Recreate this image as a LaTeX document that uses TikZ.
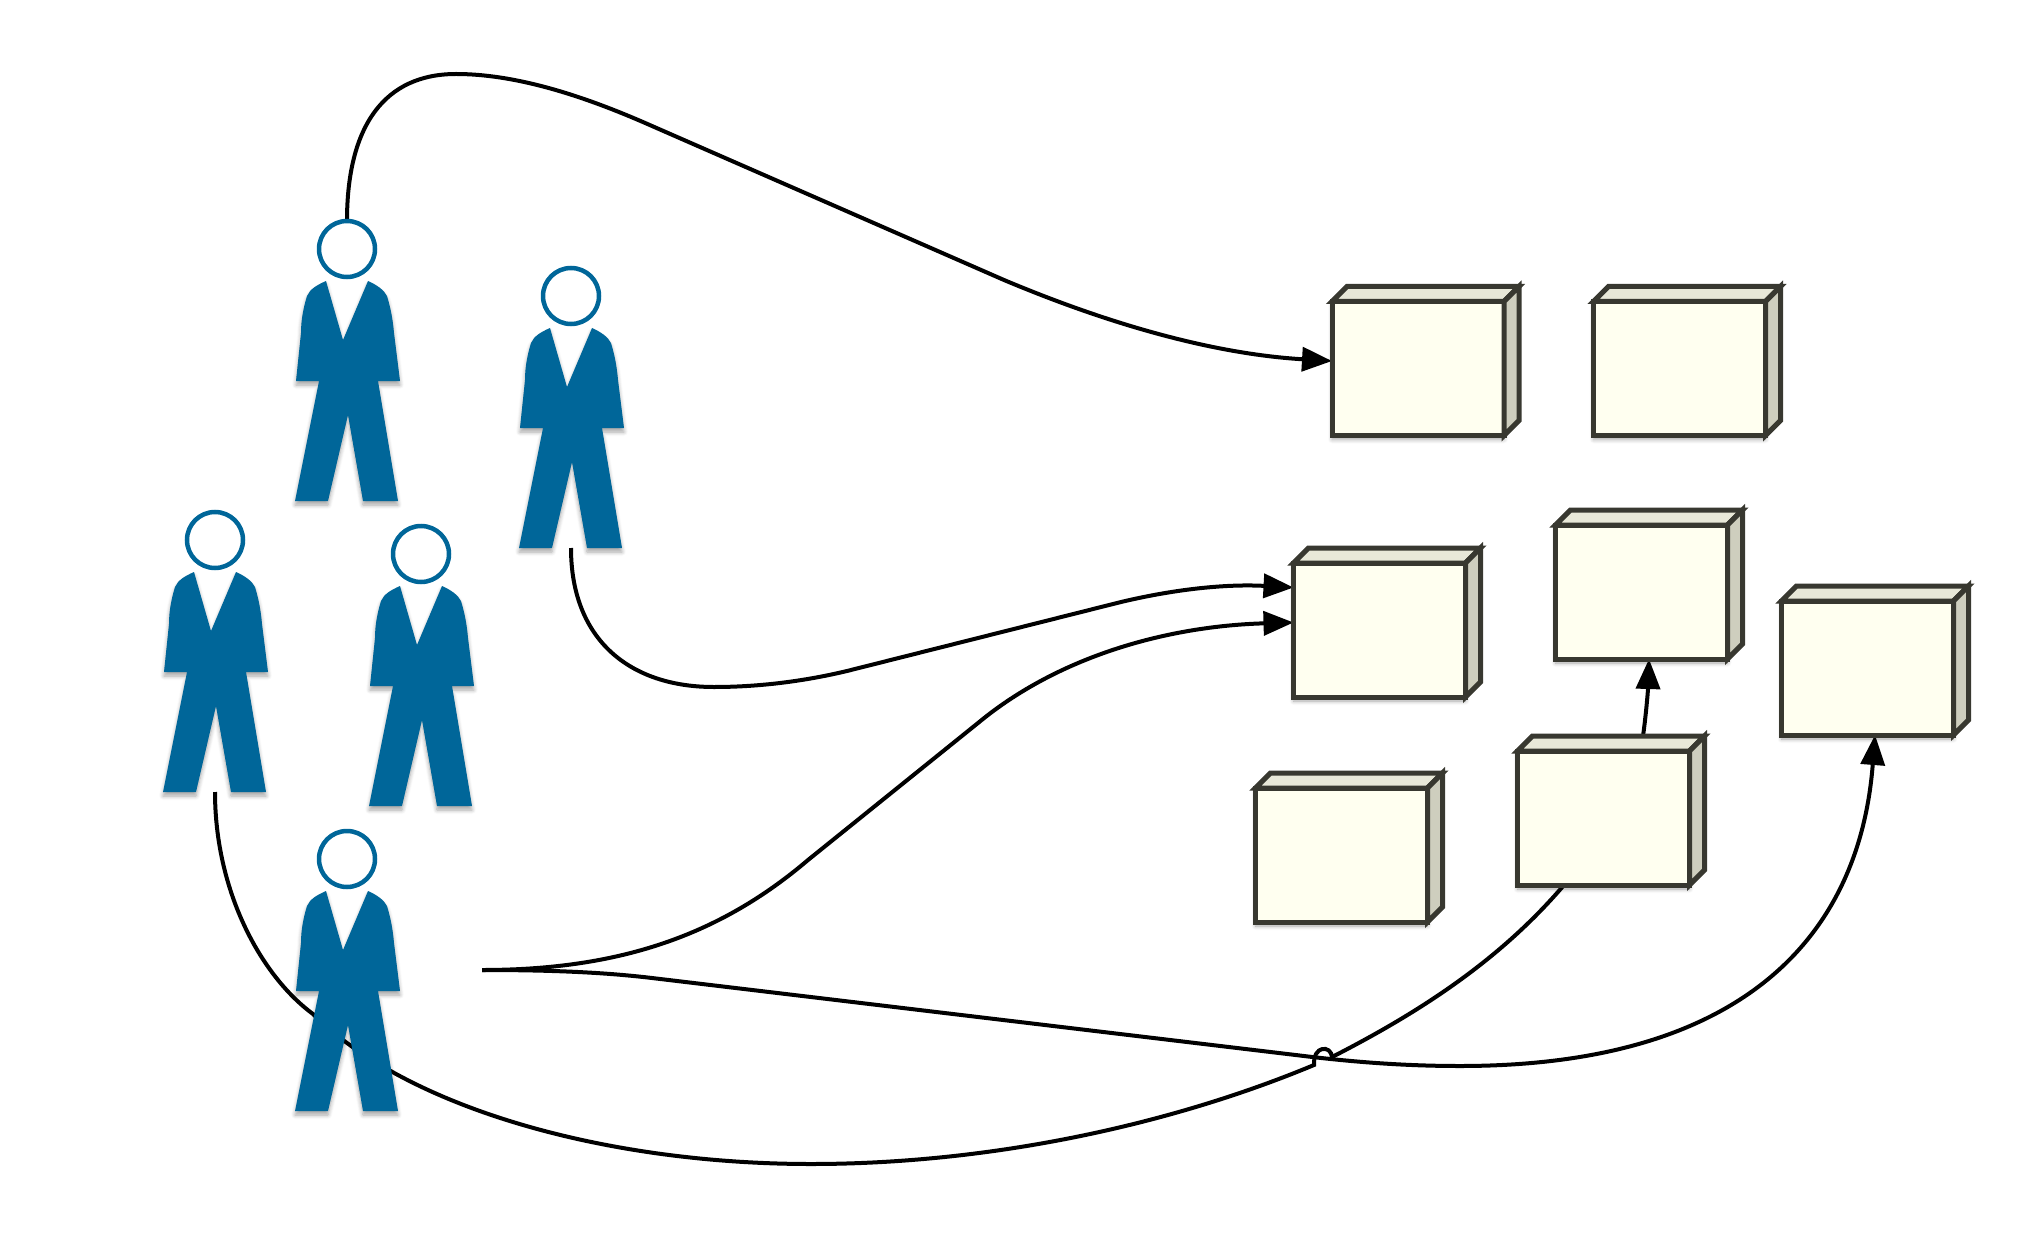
\documentclass[tikz,border=0pt]{standalone}
\usepackage{tikz}
\usetikzlibrary{arrows.meta,backgrounds,calc,shadows.blur}
\definecolor{suitBlue}{RGB}{0,102,153}
\definecolor{cubeFront}{RGB}{255,255,240}
\definecolor{cubeTop}{RGB}{232,232,216}
\definecolor{cubeSide}{RGB}{206,206,190}
\definecolor{cubeEdge}{RGB}{56,56,48}
\tikzset{
  softshadow/.style={blur shadow={shadow xshift=0pt,shadow yshift=-4pt,shadow blur radius=4pt,shadow blur steps=6,shadow opacity=35}},
  headnode/.style={circle,draw=suitBlue,fill=white,line width=4.5pt,minimum size=56pt,inner sep=0pt,outer sep=0pt},
  cubeframe/.style={minimum width=187pt,minimum height=149pt,inner sep=0pt,outer sep=0pt},
  cubeface/.style={draw=cubeEdge,line width=5pt,line join=miter},
  link/.style={line width=4pt,black},
  linktip/.style={link,-{Triangle[length=30pt,width=24pt]}},
  person/.pic={
    \fill[suitBlue,softshadow] (-21,32) .. controls (-30,36) and (-37,40) .. (-40,47)
      .. controls (-44,60) and (-46,72) .. (-46,84) -- (-51,132) -- (-28,132) -- (-52,252)
      -- (-19,252) -- (1,166) -- (16,252) -- (51,252) -- (31,132) -- (53,132) -- (47,84)
      .. controls (46,72) and (44,60) .. (40,47) .. controls (37,41) and (30,36) .. (21,32)
      -- (-4,91) -- cycle;
    \node[headnode] (-head) at (0,0) {};
    \coordinate (-foot) at (0,252);
  }
}
\begin{document}
\begin{tikzpicture}[x=1pt,y=-1pt]
  \useasboundingbox (0,0) rectangle (2044,1238);
  \pic (pone) at (347,249) {person};
  \pic (ptwo) at (571,296) {person};
  \pic (pthree) at (215,540) {person};
  \pic (pfour) at (421,554) {person};
  \pic (pfive) at (347,859) {person};
  \coordinate (pout) at (482,970);
  \foreach \name/\x/\y in {boxa/1425.5/361,boxb/1687/361,boxc/1387/622.5,boxd/1649/584.5,boxe/1875/660.5,boxf/1611/810.5,boxg/1349/847.5} {
    \node[cubeframe] (\name) at (\x,\y) {};
    \draw[cubeface,fill=cubeFront,softshadow] (\name.south west) rectangle +(172,-134);
    \draw[cubeface,fill=cubeTop] (\name.north west) ++(0,15) -- ++(15,-15) -- ++(172,0) -- ++(-15,15) -- cycle;
    \draw[cubeface,fill=cubeSide] (\name.south east) ++(-15,0) -- ++(15,-15) -- ++(0,-134) -- ++(-15,15) -- cycle;
  }
  \begin{scope}[on background layer]
    \draw[linktip] (pone-head.north) .. controls (347,125) and (385,74) .. (456,74)
      .. controls (525,74) and (600,103) .. (652,126) -- (1004,280)
      .. controls (1130,333) and (1230,355) .. (boxa.west);
    \draw[linktip] (ptwo-foot) .. controls (571,640) and (630,687) .. (714,687)
      .. controls (760,687) and (805,681) .. (847,671) -- (1121,602)
      .. controls (1180,588) and (1230,584) .. ($(boxc.west)+(0,-35)$);
    \draw[linktip] (pout) .. controls (620,970) and (720,935) .. (808,860) -- (978,723)
      .. controls (1060,655) and (1170,626) .. (boxc.west);
    \draw[linktip] (pout) .. controls (560,970) and (610,973) .. (652,978) -- (1304,1056)
      .. controls (1370,1064) and (1420,1066) .. (1460,1066)
      .. controls (1750,1066) and (1860,930) .. (boxe.south);
    \draw[linktip] ($(boxf.north)+(32,0)$) .. controls (1646,715) and (1648,690) .. (boxd.south);
    \draw[link] (pthree-foot) .. controls (215,890) and (260,975) .. (313,1014)
      .. controls (410,1110) and (610,1164) .. (811,1164)
      .. controls (990,1164) and (1170,1125) .. (1314,1065)
      .. controls (1313,1045) and (1331,1045) .. (1332,1057)
      .. controls (1420,1012) and (1500,960) .. ($(boxf.south)+(-47,0)$);
  \end{scope}
\end{tikzpicture}
\end{document}
